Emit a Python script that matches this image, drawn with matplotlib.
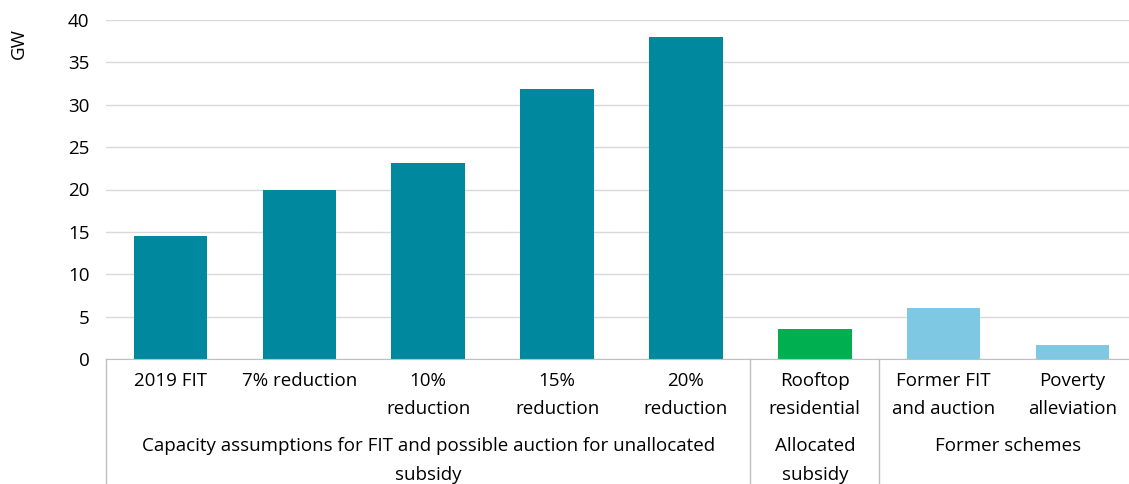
import matplotlib
matplotlib.use("Agg")
import matplotlib.pyplot as plt
from matplotlib.transforms import blended_transform_factory
import numpy as np

plt.rcParams['font.family'] = ['Open Sans', 'DejaVu Sans']

# 数据
categories = ["2019 FIT", "7% reduction", "10%\nreduction", "15%\nreduction",
              "20%\nreduction", "Rooftop\nresidential", "Former FIT\nand auction",
              "Poverty\nalleviation"]
values = [14.5, 19.9, 23.1, 31.8, 38.0, 3.5, 6.0, 1.6]
groups = ["Capacity assumptions for FIT and possible auction for unallocated\nsubsidy",
          "Allocated\nsubsidy", "Former schemes"]
group_sizes = [5, 1, 2]
group_colors = ["#00889E", "#00B050", "#7EC8E3"]

W, H = 1129, 484
fig = plt.figure(figsize=(W / 100, H / 100), dpi=100)
x0, x1, y0, y1 = 106, 1137, 359, 20
ax = fig.add_axes([x0 / W, (H - y0) / H, (x1 - x0) / W, (y0 - y1) / H])

colors = []
for c, n in zip(group_colors, group_sizes):
    colors += [c] * n
x = np.arange(len(values))
ax.bar(x, values, width=0.57, color=colors, zorder=3)

ax.set_xlim(-0.5, len(values) - 0.5)
ax.set_ylim(0, 40)
ax.set_yticks(range(0, 41, 5))
ax.tick_params(axis="y", length=0, labelsize=13.5, pad=12, colors="#000000")
ax.set_xticks([])
ax.yaxis.grid(True, color="#D9D9D9", linewidth=1, zorder=0)
for s in ["top", "right", "left"]:
    ax.spines[s].set_visible(False)
ax.spines["bottom"].set_color("#BFBFBF")
ax.spines["bottom"].set_zorder(4)
ax.set_ylabel("GW", fontsize=13.5, labelpad=0)
ax.yaxis.set_label_coords(-0.076, 0.93)

tr = blended_transform_factory(ax.transData, ax.transAxes)
px = 1.0 / (y0 - y1)  # one pixel in axes units (vertical)

# 类别标签
for xi, lab in zip(x, categories):
    ax.text(xi, -13 * px, lab, transform=tr, ha="center", va="top",
            fontsize=13.5, linespacing=1.75)

# 分组标签与分隔线
start = 0
bounds = [-0.5]
for g, n in zip(groups, group_sizes):
    mid = start + (n - 1) / 2
    ax.text(mid, -78 * px, g, transform=tr, ha="center", va="top",
            fontsize=13.5, linespacing=1.75)
    start += n
    bounds.append(start - 0.5)
for b in bounds[:-1]:
    ax.plot([b, b], [0, -140 * px], transform=tr, color="#BFBFBF",
            linewidth=1, clip_on=False)

fig.savefig("out.png", dpi=100)
